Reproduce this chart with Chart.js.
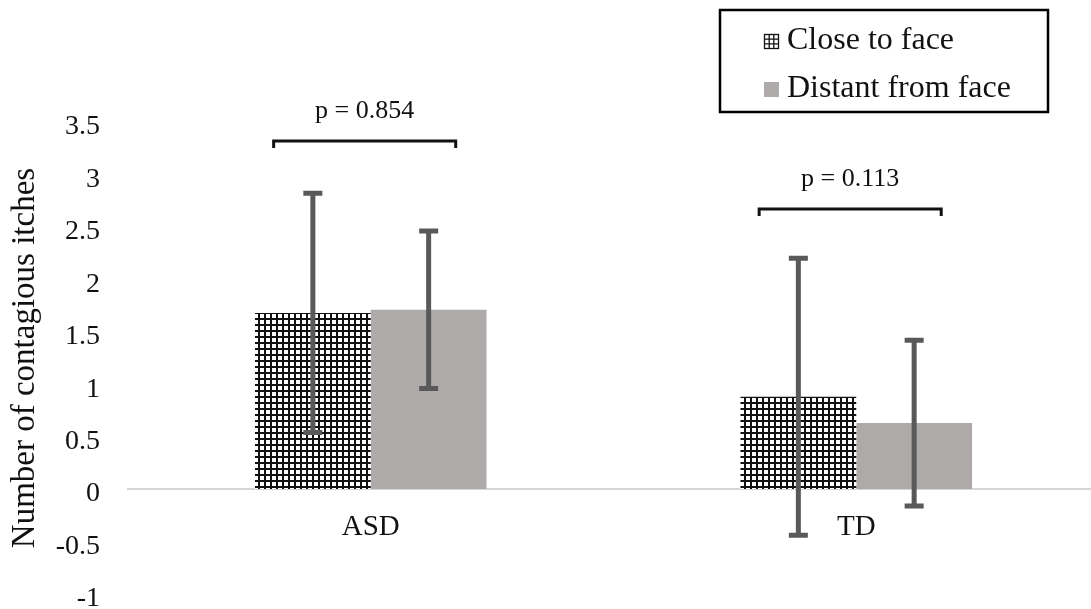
<!DOCTYPE html>
<html>
<head>
<meta charset="utf-8">
<script src="https://cdn.jsdelivr.net/npm/chart.js@4.4.1/dist/chart.umd.min.js"></script>
<style>
  html, body { margin: 0; padding: 0; background: #fff; overflow: hidden; }
  #wrap { width: 1091px; height: 609px; overflow: hidden; }
</style>
</head>
<body>
<div id="wrap"><canvas id="myChart" width="1100" height="636"></canvas></div>
<script>
// Data
const groups = ["ASD", "TD"];
const seriesNames = ["Close to face", "Distant from face"];
const closeMeans = [1.68, 0.88];
const closeErrors = [1.14, 1.32];
const distantMeans = [1.71, 0.63];
const distantErrors = [0.75, 0.79];
const pLabels = ["p = 0.854", "p = 0.113"];
const bracketLevels = [3.32, 2.67];
const yTicks = [-1, -0.5, 0, 0.5, 1, 1.5, 2, 2.5, 3, 3.5];

const serif = "'Liberation Serif', 'Times New Roman', serif";
const gray = "#aeaaaa";
const ink = "#111";

const canvas = document.getElementById("myChart");
const ctx = canvas.getContext("2d");

// Hatch (small grid) fill for the "close to face" bars
function gridPattern() {
  const c = document.createElement("canvas");
  c.width = 6;
  c.height = 6;
  const g = c.getContext("2d");
  g.fillStyle = "#fff";
  g.fillRect(0, 0, 6, 6);
  g.fillStyle = ink;
  g.fillRect(0, 0, 2, 6);
  g.fillRect(0, 0, 6, 2);
  return ctx.createPattern(c, "repeat");
}

// Error bars, drawn from each bar's value +/- its error
const errorBars = {
  id: "errorBars",
  afterDatasetsDraw(chart) {
    const c = chart.ctx;
    const y = chart.scales.y;
    chart.data.datasets.forEach((ds, di) => {
      chart.getDatasetMeta(di).data.forEach((bar, i) => {
        const top = y.getPixelForValue(ds.data[i] + ds.errors[i]);
        const bot = y.getPixelForValue(ds.data[i] - ds.errors[i]);
        c.save();
        c.strokeStyle = "#595959";
        c.lineWidth = 5;
        c.beginPath();
        c.moveTo(bar.x, top);
        c.lineTo(bar.x, bot);
        c.moveTo(bar.x - 9.5, top);
        c.lineTo(bar.x + 9.5, top);
        c.moveTo(bar.x - 9.5, bot);
        c.lineTo(bar.x + 9.5, bot);
        c.stroke();
        c.restore();
      });
    });
  }
};

// Significance brackets with p values
const brackets = {
  id: "brackets",
  afterDraw(chart) {
    const c = chart.ctx;
    const x = chart.scales.x;
    const y = chart.scales.y;
    const catW = x.getPixelForValue(1) - x.getPixelForValue(0);
    groups.forEach((g, i) => {
      const cx = x.getPixelForValue(i);
      const left = cx - 0.2 * catW;
      const right = cx + 0.175 * catW;
      const by = y.getPixelForValue(bracketLevels[i]);
      c.save();
      c.strokeStyle = ink;
      c.lineWidth = 3;
      c.beginPath();
      c.moveTo(left, by + 7);
      c.lineTo(left, by);
      c.lineTo(right, by);
      c.lineTo(right, by + 7);
      c.stroke();
      c.fillStyle = ink;
      c.font = "26px " + serif;
      c.textAlign = "center";
      c.textBaseline = "middle";
      c.fillText(pLabels[i], (left + right) / 2, by - 30);
      c.restore();
    });
  }
};

// Boxed legend in the top right corner
const boxLegend = {
  id: "boxLegend",
  afterDraw(chart) {
    const c = chart.ctx;
    const sets = chart.data.datasets;
    c.save();
    c.strokeStyle = "#000";
    c.lineWidth = 2.5;
    c.strokeRect(720, 10, 328, 102);

    // grid icon
    c.strokeStyle = ink;
    c.lineWidth = 1.3;
    c.strokeRect(764.5, 34.5, 14, 14);
    c.beginPath();
    c.moveTo(769.2, 34.5); c.lineTo(769.2, 48.5);
    c.moveTo(773.8, 34.5); c.lineTo(773.8, 48.5);
    c.moveTo(764.5, 39.2); c.lineTo(778.5, 39.2);
    c.moveTo(764.5, 43.8); c.lineTo(778.5, 43.8);
    c.stroke();

    // gray swatch
    c.fillStyle = gray;
    c.fillRect(764, 82, 15, 15);

    c.fillStyle = ink;
    c.font = "32px " + serif;
    c.textAlign = "left";
    c.textBaseline = "middle";
    c.fillText(sets[0].label, 787, 41);
    c.fillText(sets[1].label, 787, 89);
    c.restore();
  }
};

Chart.defaults.font.family = serif;
Chart.defaults.color = ink;

new Chart(canvas, {
  type: "bar",
  data: {
    labels: groups,
    datasets: [
      {
        label: seriesNames[0],
        data: closeMeans,
        errors: closeErrors,
        backgroundColor: gridPattern(),
        borderWidth: 0,
        categoryPercentage: 0.477,
        barPercentage: 1.0
      },
      {
        label: seriesNames[1],
        data: distantMeans,
        errors: distantErrors,
        backgroundColor: gray,
        borderWidth: 0,
        categoryPercentage: 0.477,
        barPercentage: 1.0
      }
    ]
  },
  options: {
    responsive: false,
    animation: false,
    layout: { padding: { top: 122, bottom: 0, left: 0, right: 1 } },
    plugins: {
      legend: { display: false },
      tooltip: { enabled: false }
    },
    scales: {
      x: {
        position: { y: 0 },
        z: 1,
        afterFit: s => { s.height = 0; },
        grid: { display: false, drawTicks: false },
        border: { display: true, color: "#d6d6d6", width: 2 },
        ticks: { font: { size: 29, family: serif }, padding: 21, color: ink }
      },
      y: {
        min: yTicks[0],
        max: yTicks[yTicks.length - 1],
        afterBuildTicks: s => { s.ticks = yTicks.map(v => ({ value: v })); },
        afterFit: s => { s.width = 128; },
        grid: { display: false, drawTicks: false },
        border: { display: false },
        ticks: {
          font: { size: 28, family: serif, lineHeight: 1 },
          padding: 28,
          labelOffset: 5,
          color: ink,
          callback: v => String(v)
        },
        title: {
          display: true,
          text: "Number of contagious itches",
          font: { size: 33, family: serif },
          padding: { top: 6, bottom: 0 },
          color: ink
        }
      }
    }
  },
  plugins: [errorBars, brackets, boxLegend]
});
</script>
</body>
</html>
